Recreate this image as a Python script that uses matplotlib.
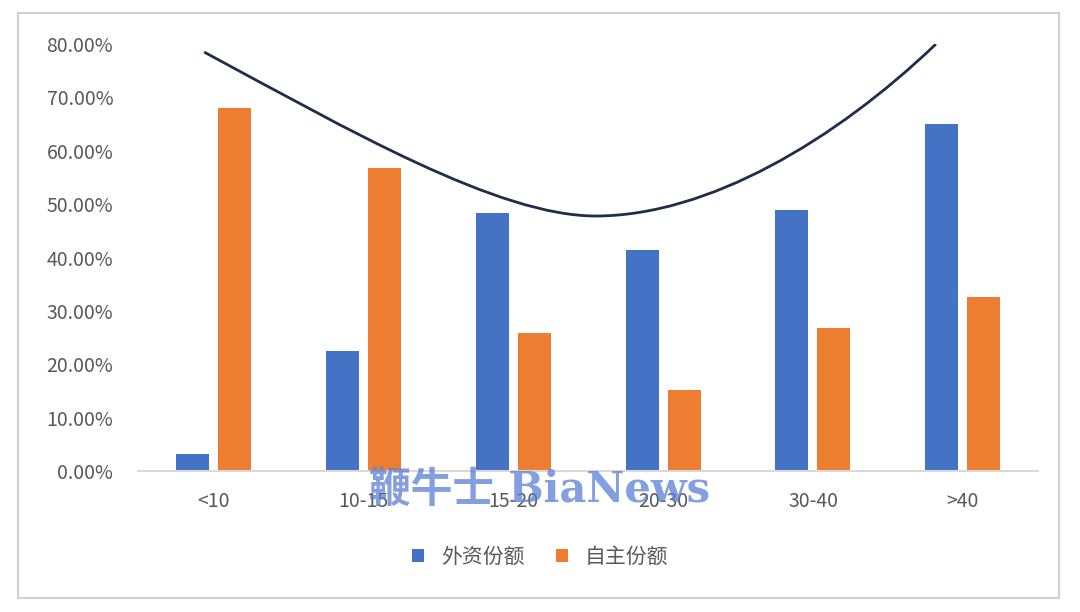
import matplotlib.pyplot as plt
from matplotlib.path import Path
from matplotlib.patches import PathPatch, Rectangle
import numpy as np

plt.rcParams['font.family'] = ['Noto Sans CJK SC', 'DejaVu Sans']

categories = ["<10", "10-15", "15-20", "20-30", "30-40", ">40"]
foreign = [3.3, 22.5, 48.3, 41.5, 49.0, 65.0]
domestic = [68.0, 56.7, 25.8, 15.2, 26.9, 32.7]
# trend curve drawn as two cubic Bezier segments (x index, percent)
curve_pts = [(-0.06, 78.5), (0.9, 64.0), (1.9, 47.8), (2.55, 47.8),
             (3.3, 47.8), (4.15, 62.0), (4.82, 80.0)]

fig = plt.figure(figsize=(10.8, 6.12), dpi=100)
fig.patches.append(Rectangle((0.017, 0.023), 0.964, 0.955, transform=fig.transFigure,
                             fill=False, edgecolor="#d0d0d0", linewidth=1.5))
ax = fig.add_axes([0.128, 0.23, 0.833, 0.698])

x = np.arange(len(categories))
w = 0.22
ax.bar(x - 0.14, foreign, w, color="#4472c4", label="外资份额")
ax.bar(x + 0.14, domestic, w, color="#ed7d31", label="自主份额")

codes = [Path.MOVETO] + [Path.CURVE4] * 6
ax.add_patch(PathPatch(Path(curve_pts, codes), fill=False, edgecolor="#1f2d4a", linewidth=2))

ax.set_xlim(-0.5, 5.5)
ax.set_ylim(0, 80)
ax.set_yticks(np.arange(0, 81, 10))
ax.set_yticklabels([f"{v:.2f}%" for v in np.arange(0, 81, 10)])
ax.set_xticks(x)
ax.set_xticklabels(categories)
ax.tick_params(axis="both", length=0, labelsize=14, colors="#595959")
ax.tick_params(axis="x", pad=14)
ax.tick_params(axis="y", pad=18)
for s in ["top", "right", "left"]:
    ax.spines[s].set_visible(False)
ax.spines["bottom"].set_color("#d9d9d9")
ax.spines["bottom"].set_linewidth(1.5)

fig.legend(loc="center", bbox_to_anchor=(0.5, 0.09), ncol=2, frameon=False,
           fontsize=15, handlelength=0.6, handleheight=0.6, columnspacing=1.5,
           labelcolor="#595959")

# watermark sits over the tick labels, as in the source image
fig.text(0.50, 0.2, "鞭牛士 BiaNews", ha="center", va="center", fontsize=30,
         color="#5b7fd6", alpha=0.75, fontweight="bold",
         family=["DejaVu Serif", "Noto Sans CJK SC"])

fig.savefig("out.png")
